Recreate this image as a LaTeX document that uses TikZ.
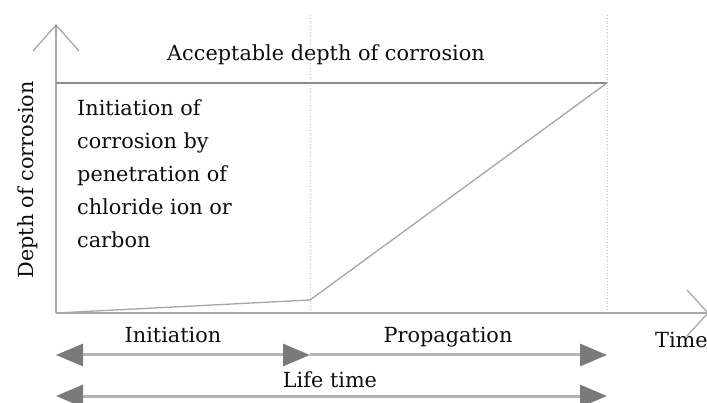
\documentclass[tikz,border=0pt]{standalone}
\usepackage{fontspec}
\setmainfont{DejaVu Serif}
\usetikzlibrary{arrows.meta}
\definecolor{axisgray}{HTML}{A8A8A8}
\definecolor{linegray}{HTML}{8C8C8C}
\definecolor{headgray}{HTML}{7A7A7A}
\definecolor{shaftgray}{HTML}{B4B4B4}
\tikzset{
  axis/.style={draw=axisgray, line width=1.6pt},
  chev/.style={draw=axisgray, line width=1.3pt},
  guide/.style={draw=black!25, line width=0.8pt, dotted},
  curve/.style={draw=black!35, line width=1.3pt},
  limit/.style={draw=linegray, line width=2pt},
  span/.style={draw=shaftgray, line width=3pt, -{Triangle[length=27pt,width=22pt,fill=headgray,color=headgray]}},
  spanb/.style={draw=shaftgray, line width=3pt, {Triangle[length=27pt,width=22pt,fill=headgray,color=headgray]}-{Triangle[length=27pt,width=22pt,fill=headgray,color=headgray]}},
  lbl/.style={font=\fontsize{20.8}{24}\selectfont, text=black!95, inner sep=0pt, anchor=base},
}
\begin{document}
\begin{tikzpicture}[x=1pt,y=-1pt]
\useasboundingbox (0,0) rectangle (707,403);
% coordinates
\coordinate (O) at (56,313);
\coordinate (Ytop) at (56,25);
\coordinate (Xend) at (707,313);
\coordinate (Lim0) at (56,83);
\coordinate (A) at (310,300);
\coordinate (B) at (607,83);
\coordinate (G1t) at (310,15);
\coordinate (G1b) at (310,313);
\coordinate (G2t) at (607,15);
\coordinate (G2b) at (607,313);
% guides
\draw[guide] (G1t) -- (G1b);
\draw[guide] (G2t) -- (G2b);
% axes
\draw[axis] (O) -- (Ytop);
\draw[axis] (O) -- (Xend);
\draw[chev] (33,51) -- (Ytop) -- (79,51);
\draw[chev] (687,290) -- (708,313) -- (687,336);
% limit line and curve
\draw[limit] (Lim0) -- (B);
\draw[curve] (O) -- (A) -- (B);
% texts
\node[lbl] (acc) at (326,61) {Acceptable depth of corrosion};
\node[lbl, anchor=north west, align=left, font=\fontsize{20.8}{33}\selectfont] (init) at (77,99) {Initiation of\\corrosion by\\penetration of\\chloride ion or\\carbon};
\node[lbl, rotate=90] (depth) at (33,180) {Depth of corrosion};
\node[lbl, anchor=base west] (time) at (655,348) {Time};
% spans
\coordinate (S1a) at (56,355);
\coordinate (S1b) at (310,355);
\coordinate (S2b) at (607,355);
\coordinate (S3a) at (56,396);
\coordinate (S3b) at (607,396);
\draw[spanb] (S1a) -- (S1b);
\draw[span] (S1b) -- (S2b);
\draw[spanb] (S3a) -- (S3b);
\node[lbl] (li) at (173,343) {Initiation};
\node[lbl] (lp) at (448,343) {Propagation};
\node[lbl] (ll) at (330,387) {Life time};
\end{tikzpicture}
\end{document}
